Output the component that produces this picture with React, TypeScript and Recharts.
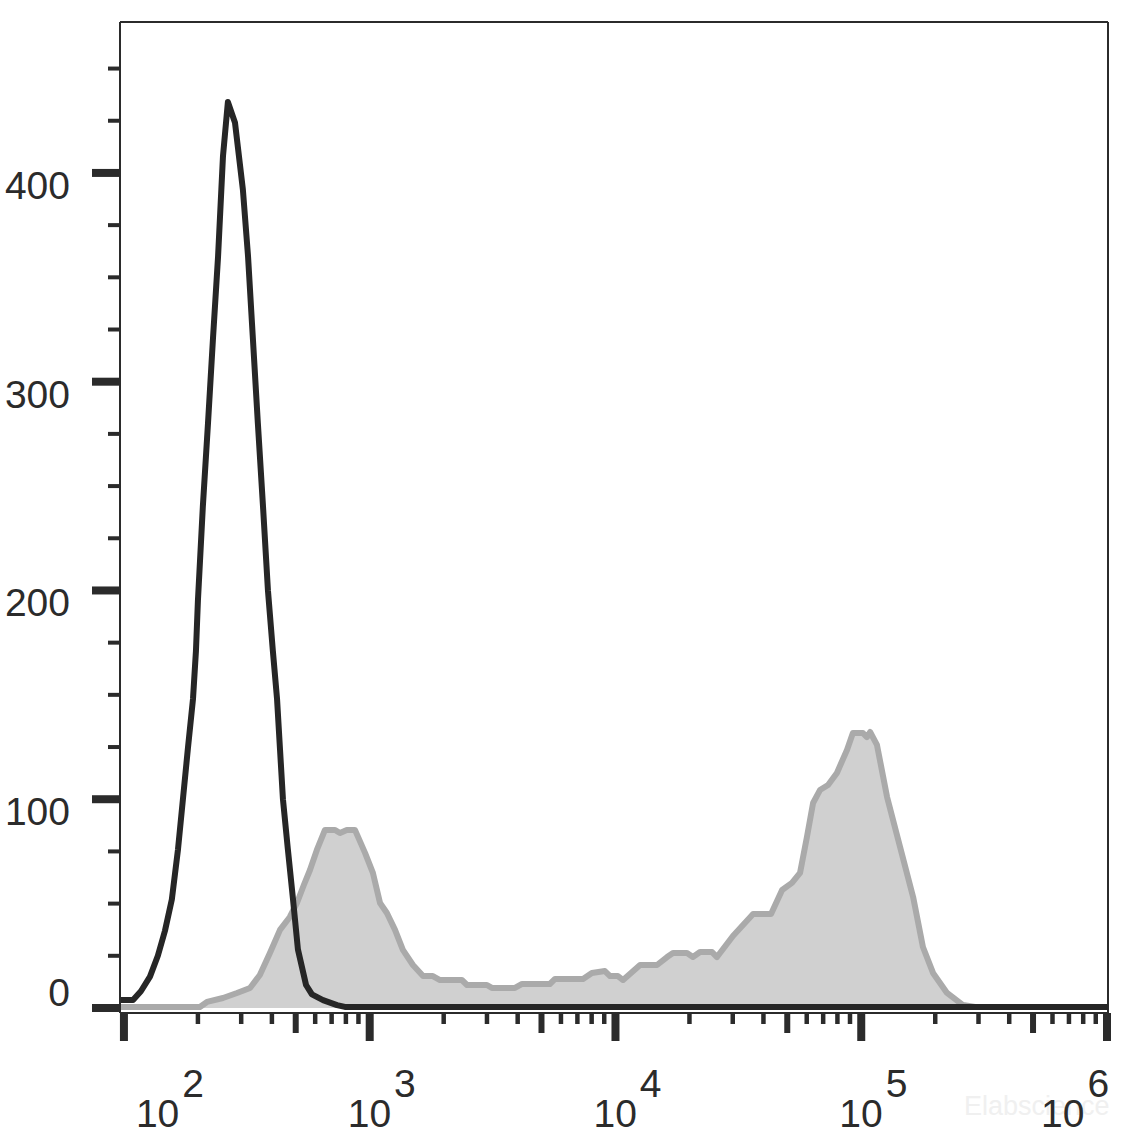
import React from "react";
import {
  Area,
  ComposedChart,
  Line,
  ReferenceLine,
  XAxis,
  YAxis,
} from "recharts";

// x values are log10 of the fluorescence intensity
const blackX = [
  1.984, 2.037, 2.069, 2.106, 2.138, 2.167, 2.195, 2.22, 2.24, 2.26, 2.281, 2.293, 2.301, 2.321,
  2.342, 2.362, 2.383, 2.403, 2.423, 2.452, 2.484, 2.505, 2.525, 2.545, 2.566, 2.586, 2.606,
  2.623, 2.635, 2.647, 2.667, 2.688, 2.708, 2.741, 2.765, 2.81, 2.867, 2.899, 6.004,
];
const blackY = [
  3.8, 3.8, 8, 15, 25, 37, 52, 76, 100, 124, 148, 171, 195, 240,
  280, 320, 360, 408, 434, 424, 392, 360, 320, 280, 240, 200, 171,
  148, 124, 100, 76, 52, 28, 11, 6.5, 3.8, 1.4, 0.5, 0.5,
];

const grayX = [
  1.984, 2.309, 2.338, 2.403, 2.46, 2.513, 2.553, 2.594, 2.635, 2.675, 2.704, 2.732, 2.757, 2.785,
  2.818, 2.859, 2.879, 2.907, 2.94, 2.981, 3.013, 3.042, 3.07, 3.103, 3.135, 3.176, 3.217, 3.257,
  3.286, 3.375, 3.396, 3.477, 3.497, 3.591, 3.62, 3.733, 3.754, 3.868, 3.904, 3.957, 3.978, 4.01,
  4.031, 4.1, 4.169, 4.21, 4.234, 4.291, 4.315, 4.344, 4.393, 4.413, 4.478, 4.56, 4.633, 4.678,
  4.718, 4.751, 4.779, 4.804, 4.832, 4.865, 4.901, 4.942, 4.966, 5.007, 5.023, 5.036, 5.064,
  5.105, 5.158, 5.211, 5.251, 5.292, 5.349, 5.414, 5.463, 6.004,
];
const grayY = [
  0.5, 0.5, 2.9, 4.8, 7.2, 9.6, 15.8, 26.3, 37.4, 43.6, 50.3, 58.9, 66.1, 75.7,
  85.3, 85.3, 83.8, 85.3, 85.3, 74.3, 64.7, 50.3, 45.5, 37.4, 27.8, 20.6, 15.3, 15.3,
  13.4, 13.4, 11, 11, 9.6, 9.6, 11.5, 11.5, 13.9, 13.9, 16.8, 17.7, 15.3, 15.3,
  13.4, 20.6, 20.6, 24.4, 26.3, 26.3, 24.4, 26.8, 26.8, 24.4, 34.5, 45, 45, 56.5,
  59.9, 64.7, 81.9, 98.2, 104.4, 106.8, 112.6, 123.6, 131.7, 131.7, 129.8, 132.2, 126,
  101.1, 77.1, 53.2, 29.2, 16.8, 7.2, 1.4, 0.5, 0.5,
];

const yTicks = [0, 25, 50, 75, 100, 125, 150, 175, 200, 225, 250, 275, 300, 325, 350, 375, 400, 425, 450];
const xTickRaw = [
  100, 200, 300, 400, 500, 600, 700, 800, 900,
  1000, 2000, 3000, 4000, 5000, 6000, 7000, 8000, 9000,
  10000, 20000, 30000, 40000, 50000, 60000, 70000, 80000, 90000,
  100000, 200000, 300000, 400000, 500000, 600000, 700000, 800000, 900000,
  1000000,
];
const xTicks = xTickRaw.map((v) => Math.log10(v));

const X_DOMAIN: [number, number] = [1.984, 6.004];
const Y_DOMAIN: [number, number] = [-2.4, 472.3];

const INK = "#2b2b2b";
const FONT = "'Liberation Sans', Arial, sans-serif";

type Row = { x: number; black?: number; gray?: number };

const rows: Row[] = (() => {
  const map = new Map<number, Row>();
  blackX.forEach((x, i) => {
    const r = map.get(x) ?? { x };
    r.black = blackY[i];
    map.set(x, r);
  });
  grayX.forEach((x, i) => {
    const r = map.get(x) ?? { x };
    r.gray = grayY[i];
    map.set(x, r);
  });
  return Array.from(map.values()).sort((a, b) => a.x - b.x);
})();

// biome-ignore lint/suspicious/noExplicitAny: recharts tick props
function YTick({ x, y, payload }: any) {
  const v = payload.value;
  const major = v % 100 === 0;
  return (
    <g>
      <line
        x1={major ? x - 28 : x - 12}
        x2={x}
        y1={y}
        y2={y}
        stroke={INK}
        strokeWidth={major ? 8 : 4}
      />
      {major && (
        <text
          x={x - 50}
          y={v === 0 ? y - 2 : y + 26}
          textAnchor="end"
          fontSize={39}
          fontFamily={FONT}
          fill={INK}
        >
          {v}
        </text>
      )}
    </g>
  );
}

// biome-ignore lint/suspicious/noExplicitAny: recharts tick props
function XTick({ x, y, payload }: any) {
  const lv = payload.value as number;
  const exp = Math.floor(lv + 1e-9);
  const mant = Math.round(10 ** (lv - exp));
  const major = mant === 1;
  const mid = mant === 5;
  const len = major ? 28 : mid ? 20 : 11;
  const w = major ? 8 : mid ? 6 : 4.5;
  let off = -18;
  if (exp === 2) off = 16;
  if (exp === 6) off = -62;
  return (
    <g>
      <line x1={x} x2={x} y1={y} y2={y + len} stroke={INK} strokeWidth={w} />
      {major && (
        <text x={x + off - 4} y={y + 114} fontSize={39} fontFamily={FONT} fill={INK}>
          <tspan>10</tspan>
          <tspan dx={3} dy={-30}>
            {exp}
          </tspan>
        </text>
      )}
    </g>
  );
}

export default function App() {
  return (
    <div
      style={{
        position: "absolute",
        left: 0,
        top: 0,
        width: 1144,
        height: 1147,
        background: "#ffffff",
      }}
    >
      <ComposedChart
        width={1144}
        height={1147}
        data={rows}
        margin={{ top: 22, right: 36, bottom: 0, left: 0 }}
      >
        <XAxis
          dataKey="x"
          type="number"
          domain={X_DOMAIN}
          allowDataOverflow
          ticks={xTicks}
          interval={0}
          height={134}
          tickSize={0}
          tickMargin={0}
          tick={<XTick />}
          axisLine={{ stroke: INK, strokeWidth: 2 }}
          tickLine={false}
        />
        <YAxis
          type="number"
          domain={Y_DOMAIN}
          allowDataOverflow
          ticks={yTicks}
          interval={0}
          width={120}
          tickSize={0}
          tickMargin={0}
          tick={<YTick />}
          axisLine={{ stroke: INK, strokeWidth: 2 }}
          tickLine={false}
        />
        <ReferenceLine y={Y_DOMAIN[1]} stroke={INK} strokeWidth={2} />
        <ReferenceLine x={X_DOMAIN[1]} stroke={INK} strokeWidth={2} />
        <Area
          type="linear"
          dataKey="gray"
          stroke="#aaaaaa"
          strokeWidth={6}
          strokeLinejoin="round"
          fill="#d0d0d0"
          fillOpacity={1}
          connectNulls
          dot={false}
          activeDot={false}
          isAnimationActive={false}
        />
        <Line
          type="linear"
          dataKey="black"
          stroke="#262626"
          strokeWidth={6}
          strokeLinejoin="round"
          connectNulls
          dot={false}
          activeDot={false}
          isAnimationActive={false}
        />
        <text x={964} y={1115} fontSize={27} fontFamily={FONT} fill="#f0f0f0">
          Elabscience
        </text>
      </ComposedChart>
    </div>
  );
}
